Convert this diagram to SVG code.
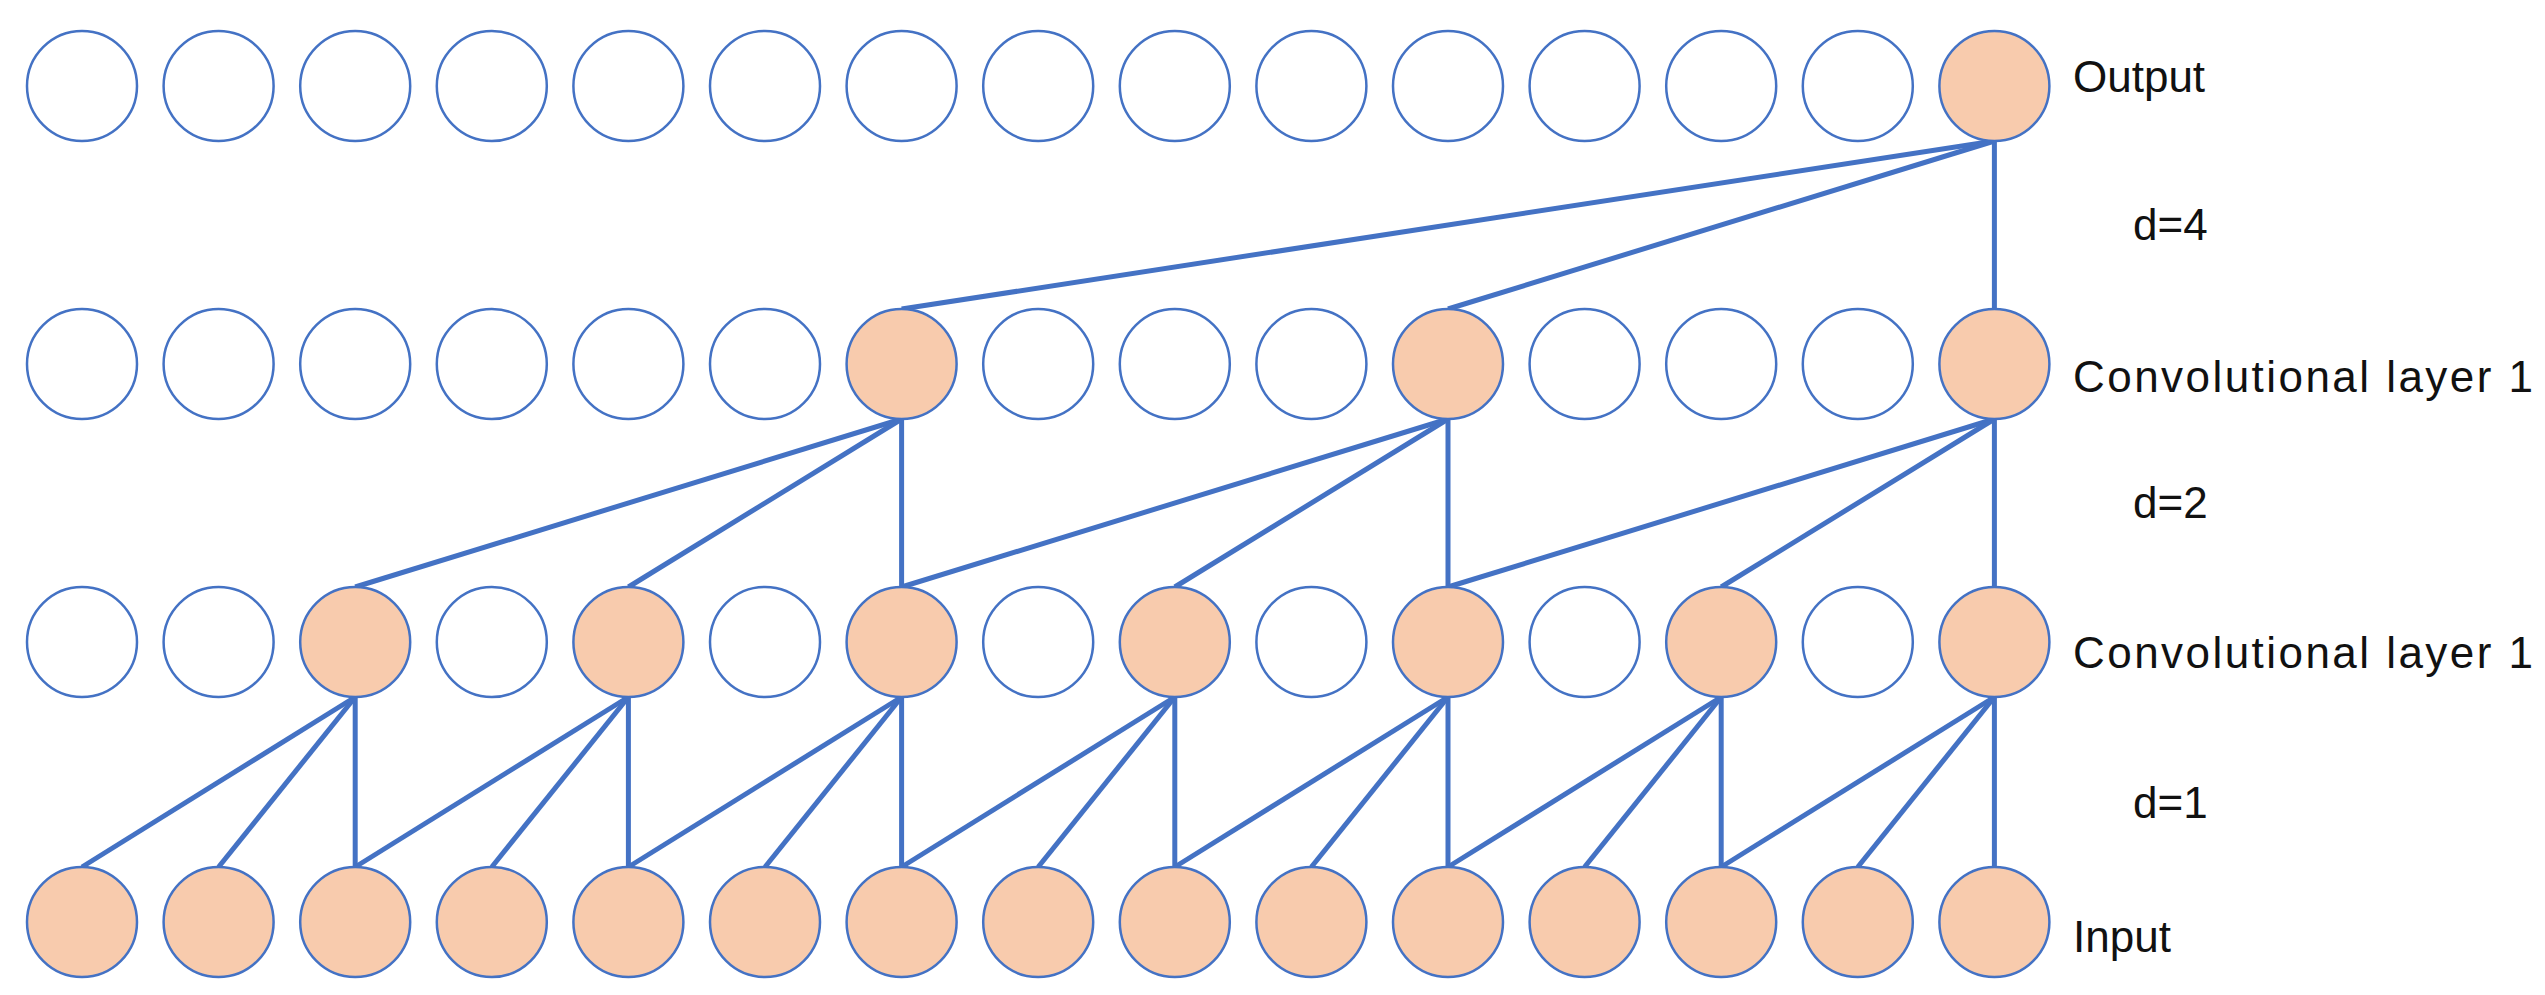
<svg xmlns="http://www.w3.org/2000/svg" width="2545" height="995" viewBox="0 0 2545 995">
<style>
.e{fill:#fff;stroke:#4472C4;stroke-width:2.5}
.f{fill:#F8CBAD;stroke:#4472C4;stroke-width:2.5}
.t{font-family:"Liberation Sans",Arial,sans-serif;font-size:44px;fill:#111}
#conn line{stroke:#4472C4;stroke-width:5}
</style>
<rect width="2545" height="995" fill="#fff"/>
<g id="conn">
<line x1="1994.4" y1="141" x2="901.6" y2="309"/><line x1="1994.4" y1="141" x2="1448" y2="309"/><line x1="1994.4" y1="141" x2="1994.4" y2="309"/>
<line x1="901.6" y1="419" x2="355.2" y2="587"/><line x1="901.6" y1="419" x2="628.4" y2="587"/><line x1="901.6" y1="419" x2="901.6" y2="587"/>
<line x1="1448" y1="419" x2="901.6" y2="587"/><line x1="1448" y1="419" x2="1174.8" y2="587"/><line x1="1448" y1="419" x2="1448" y2="587"/>
<line x1="1994.4" y1="419" x2="1448" y2="587"/><line x1="1994.4" y1="419" x2="1721.2" y2="587"/><line x1="1994.4" y1="419" x2="1994.4" y2="587"/>
<line x1="355.2" y1="697" x2="82" y2="867"/><line x1="355.2" y1="697" x2="218.6" y2="867"/><line x1="355.2" y1="697" x2="355.2" y2="867"/>
<line x1="628.4" y1="697" x2="355.2" y2="867"/><line x1="628.4" y1="697" x2="491.8" y2="867"/><line x1="628.4" y1="697" x2="628.4" y2="867"/>
<line x1="901.6" y1="697" x2="628.4" y2="867"/><line x1="901.6" y1="697" x2="765" y2="867"/><line x1="901.6" y1="697" x2="901.6" y2="867"/>
<line x1="1174.8" y1="697" x2="901.6" y2="867"/><line x1="1174.8" y1="697" x2="1038.2" y2="867"/><line x1="1174.8" y1="697" x2="1174.8" y2="867"/>
<line x1="1448" y1="697" x2="1174.8" y2="867"/><line x1="1448" y1="697" x2="1311.4" y2="867"/><line x1="1448" y1="697" x2="1448" y2="867"/>
<line x1="1721.2" y1="697" x2="1448" y2="867"/><line x1="1721.2" y1="697" x2="1584.6" y2="867"/><line x1="1721.2" y1="697" x2="1721.2" y2="867"/>
<line x1="1994.4" y1="697" x2="1721.2" y2="867"/><line x1="1994.4" y1="697" x2="1857.8" y2="867"/><line x1="1994.4" y1="697" x2="1994.4" y2="867"/>
</g>
<g id="row-output">
<g id="o0"><circle class="e" cx="82" cy="86" r="55"/></g><g id="o1"><circle class="e" cx="218.6" cy="86" r="55"/></g><g id="o2"><circle class="e" cx="355.2" cy="86" r="55"/></g><g id="o3"><circle class="e" cx="491.8" cy="86" r="55"/></g><g id="o4"><circle class="e" cx="628.4" cy="86" r="55"/></g><g id="o5"><circle class="e" cx="765" cy="86" r="55"/></g><g id="o6"><circle class="e" cx="901.6" cy="86" r="55"/></g><g id="o7"><circle class="e" cx="1038.2" cy="86" r="55"/></g><g id="o8"><circle class="e" cx="1174.8" cy="86" r="55"/></g><g id="o9"><circle class="e" cx="1311.4" cy="86" r="55"/></g><g id="o10"><circle class="e" cx="1448" cy="86" r="55"/></g><g id="o11"><circle class="e" cx="1584.6" cy="86" r="55"/></g><g id="o12"><circle class="e" cx="1721.2" cy="86" r="55"/></g><g id="o13"><circle class="e" cx="1857.8" cy="86" r="55"/></g><g id="o14"><circle class="f" cx="1994.4" cy="86" r="55"/></g>
</g>
<g id="row-conv2">
<g id="b0"><circle class="e" cx="82" cy="364" r="55"/></g><g id="b1"><circle class="e" cx="218.6" cy="364" r="55"/></g><g id="b2"><circle class="e" cx="355.2" cy="364" r="55"/></g><g id="b3"><circle class="e" cx="491.8" cy="364" r="55"/></g><g id="b4"><circle class="e" cx="628.4" cy="364" r="55"/></g><g id="b5"><circle class="e" cx="765" cy="364" r="55"/></g><g id="b6"><circle class="f" cx="901.6" cy="364" r="55"/></g><g id="b7"><circle class="e" cx="1038.2" cy="364" r="55"/></g><g id="b8"><circle class="e" cx="1174.8" cy="364" r="55"/></g><g id="b9"><circle class="e" cx="1311.4" cy="364" r="55"/></g><g id="b10"><circle class="f" cx="1448" cy="364" r="55"/></g><g id="b11"><circle class="e" cx="1584.6" cy="364" r="55"/></g><g id="b12"><circle class="e" cx="1721.2" cy="364" r="55"/></g><g id="b13"><circle class="e" cx="1857.8" cy="364" r="55"/></g><g id="b14"><circle class="f" cx="1994.4" cy="364" r="55"/></g>
</g>
<g id="row-conv1">
<g id="c0"><circle class="e" cx="82" cy="642" r="55"/></g><g id="c1"><circle class="e" cx="218.6" cy="642" r="55"/></g><g id="c2"><circle class="f" cx="355.2" cy="642" r="55"/></g><g id="c3"><circle class="e" cx="491.8" cy="642" r="55"/></g><g id="c4"><circle class="f" cx="628.4" cy="642" r="55"/></g><g id="c5"><circle class="e" cx="765" cy="642" r="55"/></g><g id="c6"><circle class="f" cx="901.6" cy="642" r="55"/></g><g id="c7"><circle class="e" cx="1038.2" cy="642" r="55"/></g><g id="c8"><circle class="f" cx="1174.8" cy="642" r="55"/></g><g id="c9"><circle class="e" cx="1311.4" cy="642" r="55"/></g><g id="c10"><circle class="f" cx="1448" cy="642" r="55"/></g><g id="c11"><circle class="e" cx="1584.6" cy="642" r="55"/></g><g id="c12"><circle class="f" cx="1721.2" cy="642" r="55"/></g><g id="c13"><circle class="e" cx="1857.8" cy="642" r="55"/></g><g id="c14"><circle class="f" cx="1994.4" cy="642" r="55"/></g>
</g>
<g id="row-input">
<g id="i0"><circle class="f" cx="82" cy="922" r="55"/></g><g id="i1"><circle class="f" cx="218.6" cy="922" r="55"/></g><g id="i2"><circle class="f" cx="355.2" cy="922" r="55"/></g><g id="i3"><circle class="f" cx="491.8" cy="922" r="55"/></g><g id="i4"><circle class="f" cx="628.4" cy="922" r="55"/></g><g id="i5"><circle class="f" cx="765" cy="922" r="55"/></g><g id="i6"><circle class="f" cx="901.6" cy="922" r="55"/></g><g id="i7"><circle class="f" cx="1038.2" cy="922" r="55"/></g><g id="i8"><circle class="f" cx="1174.8" cy="922" r="55"/></g><g id="i9"><circle class="f" cx="1311.4" cy="922" r="55"/></g><g id="i10"><circle class="f" cx="1448" cy="922" r="55"/></g><g id="i11"><circle class="f" cx="1584.6" cy="922" r="55"/></g><g id="i12"><circle class="f" cx="1721.2" cy="922" r="55"/></g><g id="i13"><circle class="f" cx="1857.8" cy="922" r="55"/></g><g id="i14"><circle class="f" cx="1994.4" cy="922" r="55"/></g>
</g>
<g id="labels">
<text class="t" x="2073" y="92">Output</text>
<text class="t" x="2133" y="240">d=4</text>
<text class="t" x="2073" y="392" textLength="460">Convolutional layer 1</text>
<text class="t" x="2133" y="518">d=2</text>
<text class="t" x="2073" y="668" textLength="460">Convolutional layer 1</text>
<text class="t" x="2133" y="818">d=1</text>
<text class="t" x="2073" y="952">Input</text>
</g>
</svg>
